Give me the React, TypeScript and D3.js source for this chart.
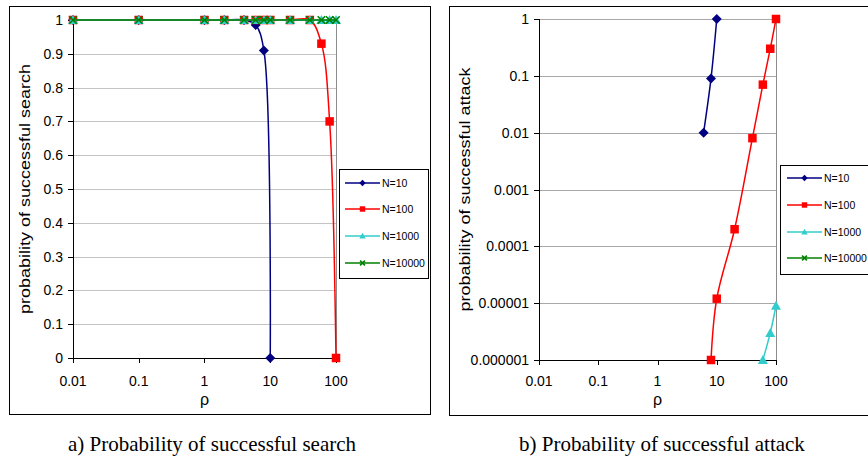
import React from 'react';
import * as d3 from 'd3';

const W = 868;
const H = 459;

// rho values used in the search chart
const rhoSearch = [0.01, 0.1, 1, 2, 4, 6, 8, 10, 20, 40, 60, 80, 100];
const searchN10 = [1, 1, 1, 1, 1, 0.985, 0.91, 0];
const searchN100 = [1, 1, 1, 1, 1, 1, 1, 1, 1, 1, 0.93, 0.7, 0];
const searchN1000 = [1, 1, 1, 1, 1, 1, 1, 1, 1, 1, 1, 1, 1];
const searchN10000 = [1, 1, 1, 1, 1, 1, 1, 1, 1, 1, 1, 1, 1];

// attack chart
const attackN10Rho = [6, 8, 10];
const attackN10 = [0.01, 0.09, 1];
const attackN100Rho = [8, 10, 20, 40, 60, 80, 100];
const attackN100 = [0.000001, 0.000012, 0.0002, 0.008, 0.07, 0.3, 1];
const attackN1000Rho = [60, 80, 100];
const attackN1000 = [0.000001, 0.000003, 0.000009];

const legendLabels = ['N=10', 'N=100', 'N=1000', 'N=10000'];
const colors = ['#000080', '#ff0000', '#33cccc', '#008000'];
const shapes = ['diamond', 'square', 'triangle', 'x'];

const xTicks = [0.01, 0.1, 1, 10, 100];
const xTickLabels = ['0.01', '0.1', '1', '10', '100'];
const searchTicks = [0, 0.1, 0.2, 0.3, 0.4, 0.5, 0.6, 0.7, 0.8, 0.9, 1];
const searchTickLabels = ['0', '0.1', '0.2', '0.3', '0.4', '0.5', '0.6', '0.7', '0.8', '0.9', '1'];
const attackTicks = [0.000001, 0.00001, 0.0001, 0.001, 0.01, 0.1, 1];
const attackTickLabels = ['0.000001', '0.00001', '0.0001', '0.001', '0.01', '0.1', '1'];

const font = 'Liberation Sans, Arial, sans-serif';

function Marker({ shape, x, y, s, color }) {
  if (shape === 'diamond') {
    return <path d={`M${x},${y - s}L${x + s},${y}L${x},${y + s}L${x - s},${y}Z`} fill={color} />;
  }
  if (shape === 'square') {
    const h = s * 0.85;
    return <rect x={x - h} y={y - h} width={2 * h} height={2 * h} fill={color} />;
  }
  if (shape === 'triangle') {
    return <path d={`M${x},${y - s}L${x + s},${y + s * 0.8}L${x - s},${y + s * 0.8}Z`} fill={color} />;
  }
  const h = s * 0.75;
  return (
    <path d={`M${x - h},${y - h}L${x + h},${y + h}M${x - h},${y + h}L${x + h},${y - h}`}
      stroke={color} strokeWidth={1.6} fill="none" />
  );
}

function Panel({ frame, plot, yScale, yTicks, yTickLabels, yLabel, yLabelLen, series, legend, gridColor, caption }) {
  const x = d3.scaleLog().domain([0.01, 100]).range([plot.x0, plot.x1]);
  const y = yScale.range([plot.y1, plot.y0]);
  const line = d3.line().x(d => x(d[0])).y(d => y(d[1])).curve(d3.curveCatmullRom.alpha(0.5));
  const cx = (plot.x0 + plot.x1) / 2;
  const cy = (plot.y0 + plot.y1) / 2;

  return (
    <g fontFamily={font}>
      <rect x={frame.x + 0.5} y={frame.y + 0.5} width={frame.w} height={frame.h} fill="#fff" stroke="#000" />
      {yTicks.map((t, i) => (
        <line key={'g' + i} x1={plot.x0} x2={plot.x1} y1={Math.round(y(t)) + 0.5} y2={Math.round(y(t)) + 0.5}
          stroke={gridColor} strokeWidth={1} />
      ))}
      <line x1={plot.x1 + 0.5} x2={plot.x1 + 0.5} y1={plot.y0} y2={plot.y1} stroke="#8c8c8c" />
      <line x1={plot.x0 + 0.5} x2={plot.x0 + 0.5} y1={plot.y0} y2={plot.y1 + 0.5} stroke="#000" />
      <line x1={plot.x0} x2={plot.x1 + 1} y1={plot.y1 + 0.5} y2={plot.y1 + 0.5} stroke="#000" />
      {yTicks.map((t, i) => (
        <g key={'yt' + i}>
          <line x1={plot.x0 - 5} x2={plot.x0} y1={Math.round(y(t)) + 0.5} y2={Math.round(y(t)) + 0.5} stroke="#000" />
          <text x={plot.x0 - 10} y={y(t)} dy="0.36em" textAnchor="end" fontSize={14}>{yTickLabels[i]}</text>
        </g>
      ))}
      {xTicks.map((t, i) => (
        <g key={'xt' + i}>
          <line x1={Math.round(x(t)) + 0.5} x2={Math.round(x(t)) + 0.5} y1={plot.y1} y2={plot.y1 + 5} stroke="#000" />
          <text x={x(t)} y={386} textAnchor="middle" fontSize={14}>{xTickLabels[i]}</text>
        </g>
      ))}
      <text x={cx} y={405} textAnchor="middle" fontSize={16}>ρ</text>
      <text transform={`translate(${frame.x + 21},${cy}) rotate(-90)`} textAnchor="middle" fontSize={14.5}
        textLength={yLabelLen} lengthAdjust="spacingAndGlyphs">{yLabel}</text>
      {series.map((s, i) => (
        <g key={'s' + i}>
          {s.pts.length > 1 && (
            <path d={line(s.pts)} fill="none" stroke={colors[s.idx]} strokeWidth={1.5} />
          )}
          {s.pts.map((p, j) => (
            <Marker key={j} shape={shapes[s.idx]} x={x(p[0])} y={y(p[1])} s={5} color={colors[s.idx]} />
          ))}
        </g>
      ))}
      <rect x={legend.x + 0.5} y={legend.y + 0.5} width={legend.w} height={legend.h} fill="#fff" stroke="#000" />
      {legendLabels.map((l, i) => {
        const ry = legend.rows[i];
        return (
          <g key={'l' + i}>
            <line x1={legend.lx0} x2={legend.lx1} y1={ry} y2={ry} stroke={colors[i]} strokeWidth={1.5} />
            <Marker shape={shapes[i]} x={(legend.lx0 + legend.lx1) / 2} y={ry} s={3.2} color={colors[i]} />
            <text x={legend.lx1 + 2} y={ry} dy="0.36em" fontSize={10.5}>{l}</text>
          </g>
        );
      })}
      <text x={caption.x} y={451} textAnchor="middle" fontSize={21} fontFamily="Liberation Serif, Times New Roman, serif">
        {caption.text}
      </text>
    </g>
  );
}

export default function App() {
  const searchSeries = [
    { idx: 0, pts: searchN10.map((v, i) => [rhoSearch[i], v]) },
    { idx: 1, pts: searchN100.map((v, i) => [rhoSearch[i], v]) },
    { idx: 2, pts: searchN1000.map((v, i) => [rhoSearch[i], v]) },
    { idx: 3, pts: searchN10000.map((v, i) => [rhoSearch[i], v]) },
  ];
  const attackSeries = [
    { idx: 0, pts: attackN10.map((v, i) => [attackN10Rho[i], v]) },
    { idx: 1, pts: attackN100.map((v, i) => [attackN100Rho[i], v]) },
    { idx: 2, pts: attackN1000.map((v, i) => [attackN1000Rho[i], v]) },
  ];

  return (
    <svg width={W} height={H} style={{ position: 'absolute', left: 0, top: 0 }}>
      <rect width={W} height={H} fill="#fff" />
      <Panel
        frame={{ x: 9, y: 6, w: 421, h: 408 }}
        plot={{ x0: 73, x1: 336, y0: 20, y1: 358 }}
        yScale={d3.scaleLinear().domain([0, 1])}
        yTicks={searchTicks}
        yTickLabels={searchTickLabels}
        yLabel="probability of successful search"
        yLabelLen={250}
        series={searchSeries}
        legend={{ x: 339, y: 169, w: 89, h: 109, rows: [183, 209, 236, 263], lx0: 345, lx1: 380 }}
        gridColor="#c4c4c4"
        caption={{ x: 212, text: 'a) Probability of successful search' }}
      />
      <Panel
        frame={{ x: 449, y: 6, w: 425, h: 409 }}
        plot={{ x0: 539, x1: 776, y0: 19, y1: 360 }}
        yScale={d3.scaleLog().domain([0.000001, 1])}
        yTicks={attackTicks}
        yTickLabels={attackTickLabels}
        yLabel="probability of successful attack"
        yLabelLen={244}
        series={attackSeries}
        legend={{ x: 780, y: 165, w: 92, h: 109, rows: [178, 205, 232, 258], lx0: 787, lx1: 822 }}
        gridColor="#a8a8a8"
        caption={{ x: 662, text: 'b) Probability of successful attack' }}
      />
    </svg>
  );
}
